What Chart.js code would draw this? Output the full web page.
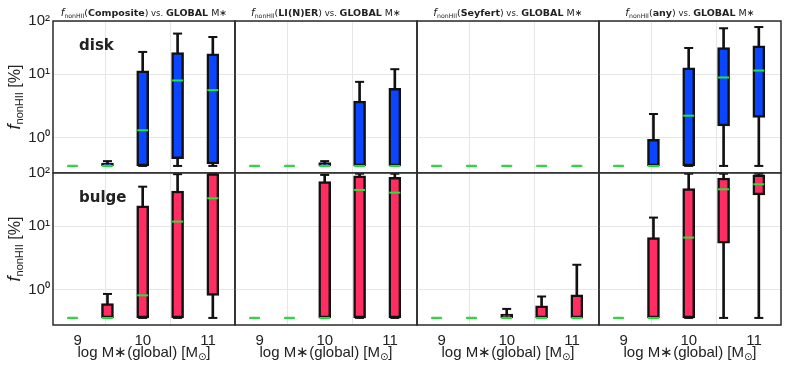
<!DOCTYPE html>
<html lang="en">
<head>
<meta charset="UTF-8">
<title>f_nonHII vs. GLOBAL M*</title>
<script src="https://cdn.jsdelivr.net/npm/chart.js"></script>
<style>
  body { margin: 0; background: #fff; }
  #fig { position: relative; width: 789px; height: 369px; overflow: hidden; }
  #fig canvas { position: absolute; }
</style>
</head>
<body>
<div id="fig"></div>
<script>
// ---- data ----
const massBins = [9.0, 9.535, 10.075, 10.61, 11.15];
const xTickValues = [9, 10, 11];
const yTickValues = [1, 10, 100];
const yTickLabels = ['10⁰', '10¹', '10²'];
const classNames = ['Composite', 'LI(N)ER', 'Seyfert', 'any'];
const rowNames = ['disk', 'bulge'];

// one line per class: Composite, LI(N)ER, Seyfert, any
const diskQ1 = [
  [0, 0, 0, 0.26, 0.07],
  [0, 0, 0, 0, 0],
  [0, 0, 0, 0, 0],
  [0, 0, 0, 1.54, 2.09]
];
const diskMed = [
  [0, 0, 1.31, 7.96, 5.6],
  [0, 0, 0, 0, 0],
  [0, 0, 0, 0, 0],
  [0, 0, 2.22, 8.87, 11.7]
];
const diskQ3 = [
  [0, 0.1, 11.5, 25.5, 24.0],
  [0, 0, 0.12, 3.77, 5.97],
  [0, 0, 0, 0, 0],
  [0, 0.94, 13.1, 31.7, 34.0]
];
const diskLo = [
  [0, 0, 0, 0, 0],
  [0, 0, 0, 0, 0],
  [0, 0, 0, 0, 0],
  [0, 0, 0, 0, 0]
];
const diskHi = [
  [0, 0.17, 26.2, 58, 50],
  [0, 0, 0.17, 7.57, 12.4],
  [0, 0, 0, 0, 0],
  [0, 2.36, 31.1, 73, 77]
];

const bulgeQ1 = [
  [0, 0, 0, 0, 0.8],
  [0, 0, 0, 0, 0],
  [0, 0, 0, 0, 0],
  [0, 0, 0, 5.41, 38.7]
];
const bulgeMed = [
  [0, 0, 0.8, 12.2, 33.5],
  [0, 0, 0, 48, 42.7],
  [0, 0, 0, 0, 0],
  [0, 0, 6.62, 49.4, 61.4]
];
const bulgeQ3 = [
  [0, 0.505, 24.0, 45.9, 97],
  [0, 0, 68.7, 88, 83],
  [0, 0, 0.14, 0.43, 0.82],
  [0, 6.62, 50.7, 80.6, 92]
];
const bulgeLo = [
  [0, 0, 0, 0, 0],
  [0, 0, 0, 0, 0],
  [0, 0, 0, 0, 0],
  [0, 0, 0, 0, 0]
];
const bulgeHi = [
  [0, 0.85, 55.3, 95, 100],
  [0, 0, 92, 97, 97],
  [0, 0, 0.32, 0.76, 2.47],
  [0, 14.5, 97, 97, 97]
];

// ---- y scale: linear below 1, then two log decades (upper one squeezed) ----
const LIN = 28.3, DEC1 = 63.7, DEC2 = 53.3;
function toU(v) {
  if (v <= 1) return v * LIN;
  if (v <= 10) return LIN + DEC1 * Math.log10(v);
  return LIN + DEC1 + DEC2 * Math.log10(v / 10);
}
function fromU(u) {
  if (u <= LIN) return u / LIN;
  if (u <= LIN + DEC1) return Math.pow(10, (u - LIN) / DEC1);
  return 10 * Math.pow(10, (u - LIN - DEC1) / DEC2);
}

class FracScale extends Chart.Scale {
  determineDataLimits() {
    this.min = this.options.min;
    this.max = this.options.max;
  }
  buildTicks() {
    return yTickValues.map(v => ({ value: v }));
  }
  configure() {
    super.configure();
    this._u0 = toU(this.min);
    this._u1 = toU(this.max);
  }
  getPixelForValue(v) {
    return this.getPixelForDecimal((toU(v) - this._u0) / (this._u1 - this._u0));
  }
  getValueForPixel(p) {
    return fromU(this._u0 + this.getDecimalForPixel(p) * (this._u1 - this._u0));
  }
}
FracScale.id = 'frac';
FracScale.defaults = {};
Chart.register(FracScale);

// ---- text and frame helpers ----
function drawRich(ctx, parts, x, y) {
  let w = 0;
  parts.forEach(p => { ctx.font = p.font; w += ctx.measureText(p.t).width; });
  let cx = x - w / 2;
  parts.forEach(p => {
    ctx.font = p.font;
    ctx.fillText(p.t, cx, y + (p.dy || 0));
    cx += ctx.measureText(p.t).width;
  });
}

const framePlugin = {
  id: 'frame',
  afterDraw(chart) {
    const { ctx, chartArea: a } = chart;
    ctx.save();
    ctx.strokeStyle = '#2a2a2a';
    ctx.lineWidth = 1.5;
    ctx.strokeRect(a.left, a.top, a.right - a.left, a.bottom - a.top);
    ctx.restore();
  }
};

const textPlugin = {
  id: 'panelText',
  afterDraw(chart, args, opts) {
    const { ctx, chartArea: a } = chart;
    const cx = (a.left + a.right) / 2;
    const cy = (a.top + a.bottom) / 2;
    ctx.save();
    ctx.fillStyle = '#222';
    ctx.textBaseline = 'alphabetic';
    if (opts.title) {
      drawRich(ctx, [
        { t: 'f', font: 'italic 10.5px "DejaVu Sans"' },
        { t: 'nonHII', font: '6.2px "DejaVu Sans"', dy: 2 },
        { t: '(', font: '9.5px "DejaVu Sans"' },
        { t: opts.title, font: 'bold 9.5px "DejaVu Sans"' },
        { t: ')', font: '9.5px "DejaVu Sans"' },
        { t: ' vs. ', font: '8.5px "DejaVu Sans"' },
        { t: 'GLOBAL', font: 'bold 9.5px "DejaVu Sans"' },
        { t: ' M∗', font: '9.5px "DejaVu Sans"' }
      ], cx, a.top - 5.5);
    }
    if (opts.row) {
      ctx.font = 'bold 15px "DejaVu Sans"';
      ctx.fillText(opts.row, a.left + 26, a.top + 28.5);
    }
    if (opts.yTitle) {
      ctx.save();
      ctx.translate(20, cy);
      ctx.rotate(-Math.PI / 2);
      drawRich(ctx, [
        { t: 'f', font: 'italic 18px "Liberation Sans"' },
        { t: 'nonHII', font: '11px "Liberation Sans"', dy: 3 },
        { t: ' [%]', font: '16px "Liberation Sans"' }
      ], 0, 0);
      ctx.restore();
    }
    if (opts.xTitle) {
      drawRich(ctx, [
        { t: 'log M∗(global) [M', font: '15px "Liberation Sans"' },
        { t: '⊙', font: '10px "DejaVu Sans"', dy: 3 },
        { t: ']', font: '15px "Liberation Sans"' }
      ], cx, a.bottom + 32);
    }
    ctx.restore();
  }
};

// ---- layout of the 2 x 4 grid ----
const colEdges = [53, 235, 417, 599, 781];
const fig = document.getElementById('fig');

function makePanel(row, col) {
  const q1 = (row === 0 ? diskQ1 : bulgeQ1)[col];
  const med = (row === 0 ? diskMed : bulgeMed)[col];
  const q3 = (row === 0 ? diskQ3 : bulgeQ3)[col];
  const lo = (row === 0 ? diskLo : bulgeLo)[col];
  const hi = (row === 0 ? diskHi : bulgeHi)[col];
  const fill = row === 0 ? '#0a45ff' : '#ff2d62';

  const left = col === 0 ? 0 : colEdges[col] - 3;
  const right = colEdges[col + 1] + 3;
  const top = row === 0 ? 0 : 158;
  const bottom = row === 0 ? 176 : 369;

  const canvas = document.createElement('canvas');
  canvas.width = right - left;
  canvas.height = bottom - top;
  canvas.style.left = left + 'px';
  canvas.style.top = top + 'px';
  fig.appendChild(canvas);

  const caps = massBins.map((x, i) => ({ x, y: lo[i] }))
    .concat(massBins.map((x, i) => ({ x, y: hi[i] })));

  new Chart(canvas, {
    type: 'bar',
    data: {
      datasets: [
        {
          type: 'scatter',
          data: massBins.map((x, i) => ({ x, y: med[i] })),
          pointStyle: 'line',
          radius: 5.5,
          borderWidth: 2,
          borderColor: '#22e63a',
          order: 1
        },
        {
          data: massBins.map((x, i) => ({ x, y: [q1[i], q3[i]] })),
          backgroundColor: fill,
          borderColor: '#111',
          borderWidth: 2.5,
          borderSkipped: false,
          barThickness: 12,
          grouped: false,
          order: 2
        },
        {
          type: 'scatter',
          data: caps,
          pointStyle: 'line',
          radius: 4.5,
          borderWidth: 2,
          borderColor: '#111',
          order: 3
        },
        {
          data: massBins.map((x, i) => ({ x, y: [lo[i], hi[i]] })),
          backgroundColor: '#111',
          borderWidth: 0,
          barThickness: 2,
          grouped: false,
          order: 4
        }
      ]
    },
    options: {
      responsive: false,
      animation: false,
      events: [],
      layout: {
        autoPadding: false,
        padding: {
          left: col === 0 ? 0 : 3,
          right: 3,
          top: row === 0 ? 21 : 15,
          bottom: row === 0 ? 3 : 0
        }
      },
      scales: {
        x: {
          type: 'linear',
          min: 8.7,
          max: 11.49,
          offset: false,
          afterBuildTicks: s => { s.ticks = xTickValues.map(v => ({ value: v })); },
          afterFit: s => { s.height = row === 0 ? 0 : 44; },
          grid: { color: '#e6e6e6', lineWidth: 1, drawTicks: false },
          border: { display: false },
          ticks: {
            display: row === 1,
            padding: 7,
            labelOffset: 5,
            color: '#222',
            font: { family: 'Liberation Sans', size: 15 },
            callback: v => String(v)
          }
        },
        y: {
          type: 'frac',
          min: -0.25,
          max: 100,
          afterFit: s => {
            s.width = col === 0 ? 53 : 0;
            s.paddingTop = 0;
            s.paddingBottom = 0;
          },
          grid: { color: '#e6e6e6', lineWidth: 1, drawTicks: false },
          border: { display: false },
          ticks: {
            display: col === 0,
            padding: 3,
            color: '#222',
            font: { family: 'Liberation Sans', size: 15 },
            callback: v => yTickLabels[yTickValues.indexOf(v)]
          }
        }
      },
      plugins: {
        legend: { display: false },
        tooltip: { enabled: false },
        panelText: {
          title: row === 0 ? classNames[col] : null,
          row: col === 0 ? rowNames[row] : null,
          yTitle: col === 0,
          xTitle: row === 1
        }
      }
    },
    plugins: [framePlugin, textPlugin]
  });
}

for (let r = 0; r < 2; r++) {
  for (let c = 0; c < 4; c++) makePanel(r, c);
}
</script>
</body>
</html>
